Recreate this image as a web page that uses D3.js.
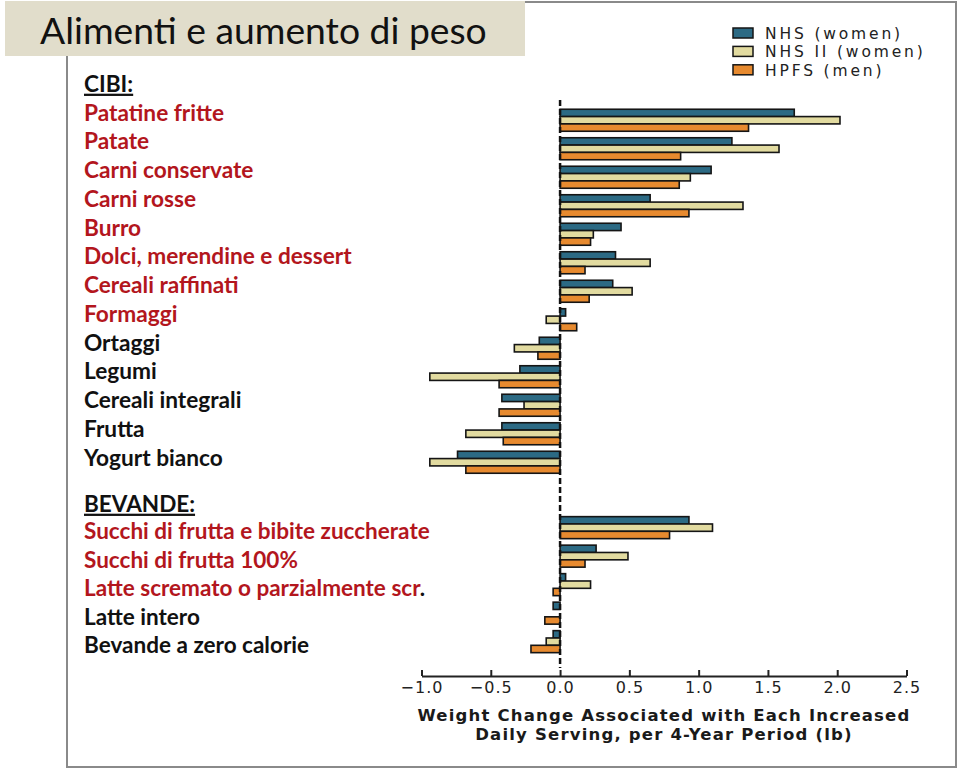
<!DOCTYPE html>
<html><head><meta charset="utf-8">
<script src="https://cdn.jsdelivr.net/npm/d3@7"></script>
<style>body{margin:0;background:#fff} svg{display:block}</style>
</head><body><svg id="c" width="960" height="771"></svg>
<script>
// ---------- data ----------
const titleText = "Alimenti e aumento di peso";
const foodsHeader = "CIBI:";
const drinksHeader = "BEVANDE:";
const foods = ["Patatine fritte","Patate","Carni conservate","Carni rosse","Burro",
  "Dolci, merendine e dessert","Cereali raffinati","Formaggi","Ortaggi","Legumi",
  "Cereali integrali","Frutta","Yogurt bianco"];
const drinks = ["Succhi di frutta e bibite zuccherate","Succhi di frutta 100%",
  "Latte scremato o parzialmente scr.","Latte intero","Bevande a zero calorie"];
const redLabels = ["Patatine fritte","Patate","Carni conservate","Carni rosse","Burro",
  "Dolci, merendine e dessert","Cereali raffinati","Formaggi",
  "Succhi di frutta e bibite zuccherate","Succhi di frutta 100%","Latte scremato o parzialmente scr."];
const seriesNames = ["NHS (women)","NHS II (women)","HPFS (men)"];
const foodsNHS   = [1.69, 1.24, 1.09, 0.65, 0.44, 0.40, 0.38, 0.04, -0.15, -0.29, -0.42, -0.42, -0.74];
const foodsNHS2  = [2.02, 1.58, 0.94, 1.32, 0.24, 0.65, 0.52, -0.10, -0.33, -0.94, -0.26, -0.68, -0.94];
const foodsHPFS  = [1.36, 0.87, 0.86, 0.93, 0.22, 0.18, 0.21, 0.12, -0.16, -0.44, -0.44, -0.41, -0.68];
const drinksNHS  = [0.93, 0.26, 0.04, -0.05, -0.05];
const drinksNHS2 = [1.10, 0.49, 0.22, 0.00, -0.10];
const drinksHPFS = [0.79, 0.18, -0.05, -0.11, -0.21];
const xTicks = [-1.0, -0.5, 0.0, 0.5, 1.0, 1.5, 2.0, 2.5];
const axisTitle = ["Weight Change Associated with Each Increased","Daily Serving, per 4-Year Period (lb)"];
const colors = ["#2c6a84", "#e2dba0", "#e78a2f"];

// ---------- setup ----------
const svg = d3.select("#c");
const calibri = "Lato, 'Open Sans', sans-serif";
const verdana = "'DejaVu Sans', Verdana, sans-serif";
const RED = "#b3161d", BLACK = "#111";

function fitFont(sel, target, base) {
  let maxW = 0;
  sel.each(function(){ maxW = Math.max(maxW, this.getComputedTextLength()); });
  const s = base * target / maxW;
  sel.attr("font-size", s);
  return s;
}
function fitSpacing(sel, target) {
  const node = sel.node();
  const w = node.getComputedTextLength();
  const n = node.textContent.length;
  return (target - w) / n;
}

// frame
svg.append("rect").attr("x", 67).attr("y", 2).attr("width", 889).attr("height", 765)
  .attr("fill", "none").attr("stroke", "#8a8a8a").attr("stroke-width", 2);
// title box
svg.append("rect").attr("x", 5).attr("y", 1).attr("width", 520).attr("height", 55).attr("fill", "#e1ddcb");
const t = svg.append("text").attr("x", 40).attr("y", 44).attr("font-family", calibri)
  .attr("font-size", 34).attr("fill", "#111").text(titleText);
fitFont(t, 447, 34);

// ---------- scales ----------
const x = d3.scaleLinear().domain([-1, 2.5]).range([421.5, 906.5]);
const yFood = d3.scaleBand().domain(foods).range([106, 476.5]).paddingInner(0.228).paddingOuter(0.114);
const yDrink = d3.scaleBand().domain(drinks).range([513.4, 655.9]).paddingInner(0.228).paddingOuter(0.114);
const ySub = d3.scaleBand().domain(seriesNames).range([0, yFood.bandwidth()]);
const color = d3.scaleOrdinal().domain(seriesNames).range(colors);

const foodRows = foods.map((n, i) => ({name: n, y: yFood, values: [foodsNHS[i], foodsNHS2[i], foodsHPFS[i]]}));
const drinkRows = drinks.map((n, i) => ({name: n, y: yDrink, values: [drinksNHS[i], drinksNHS2[i], drinksHPFS[i]]}));
const rows = foodRows.concat(drinkRows);

// ---------- bars ----------
const g = svg.append("g").selectAll("g").data(rows).join("g")
  .attr("transform", d => `translate(0,${d.y(d.name)})`);
g.selectAll("rect").data(d => d.values.map((v, j) => ({v, s: seriesNames[j]}))).join("rect")
  .attr("x", d => x(Math.min(0, d.v)))
  .attr("width", d => Math.abs(x(d.v) - x(0)))
  .attr("y", d => ySub(d.s))
  .attr("height", ySub.bandwidth())
  .attr("fill", d => color(d.s))
  .attr("stroke", "#151515").attr("stroke-width", 1.6);

// zero line
svg.append("line").attr("x1", x(0)).attr("x2", x(0)).attr("y1", 100).attr("y2", 668)
  .attr("stroke", "#111").attr("stroke-width", 2.5).attr("stroke-dasharray", "6,3");

// ---------- axis ----------
const ax = svg.append("g").attr("transform", "translate(0,676)")
  .call(d3.axisBottom(x).tickValues(xTicks).tickFormat(d3.format(".1f"))
    .tickSizeInner(-6).tickSizeOuter(0).tickPadding(6));
ax.select(".domain").attr("stroke", "#222").attr("stroke-width", 2);
ax.selectAll(".tick line").attr("stroke", "#222").attr("stroke-width", 2);
ax.selectAll(".tick text").attr("font-family", verdana).attr("font-size", 16)
  .attr("fill", "#222").attr("letter-spacing", 1);

const at = svg.append("g").selectAll("text").data(axisTitle).join("text")
  .attr("x", 664).attr("y", (d, i) => 721 + i * 19)
  .attr("text-anchor", "middle").attr("font-family", verdana).attr("font-weight", "bold")
  .attr("font-size", 16.5).attr("fill", "#1a1a1a").text(d => d);
const lsA = fitSpacing(at.filter((d, i) => i === 0), 493);
at.attr("letter-spacing", lsA);

// ---------- legend ----------
const lg = svg.append("g").selectAll("g").data(seriesNames).join("g")
  .attr("transform", (d, i) => `translate(733,${28 + i * 18.4})`);
lg.append("rect").attr("width", 20).attr("height", 10).attr("fill", d => color(d))
  .attr("stroke", "#151515").attr("stroke-width", 1.5);
const lt = lg.append("text").attr("x", 32).attr("y", 11).attr("font-family", verdana)
  .attr("font-size", 15.5).attr("fill", "#222").text(d => d);
const lsL = fitSpacing(lt.filter((d, i) => i === 0), 138);
lt.attr("letter-spacing", lsL);

// ---------- row labels ----------
function addHeader(txt, yy) {
  return svg.append("text").attr("x", 84).attr("y", yy).attr("font-family", calibri)
    .attr("font-weight", "bold").attr("font-size", 20).attr("fill", BLACK)
    .attr("text-decoration", "underline").text(txt);
}
const foodLabelY = d3.scaleLinear().domain([0, foods.length - 1]).range([120.7, 465.7]);
const drinkLabelY = d3.scaleLinear().domain([0, drinks.length - 1]).range([539.3, 653.3]);

function addLabels(list, yScale) {
  const sel = svg.append("g").selectAll("text").data(list).join("text")
    .attr("x", 84).attr("y", (d, i) => yScale(i))
    .attr("font-family", calibri).attr("font-weight", "bold").attr("font-size", 20);
  sel.each(function(d) {
    const el = d3.select(this);
    const red = redLabels.includes(d);
    if (red && d.endsWith(".")) {
      el.append("tspan").attr("fill", RED).text(d.slice(0, -1));
      el.append("tspan").attr("fill", BLACK).text(".");
    } else {
      el.attr("fill", red ? RED : BLACK).text(d);
    }
  });
  return sel;
}
const fl = addLabels(foods, foodLabelY);
const dl = addLabels(drinks, drinkLabelY);
const fs = fitFont(fl.filter(d => d === "Dolci, merendine e dessert"), 268, 20);
fl.attr("font-size", fs);
const ds = fitFont(dl.filter(d => d === drinks[0]), 346, 20);
dl.attr("font-size", ds);
addHeader(foodsHeader, 91.7).attr("font-size", fs);
addHeader(drinksHeader, 511.7).attr("font-size", ds);
</script>
</body></html>
